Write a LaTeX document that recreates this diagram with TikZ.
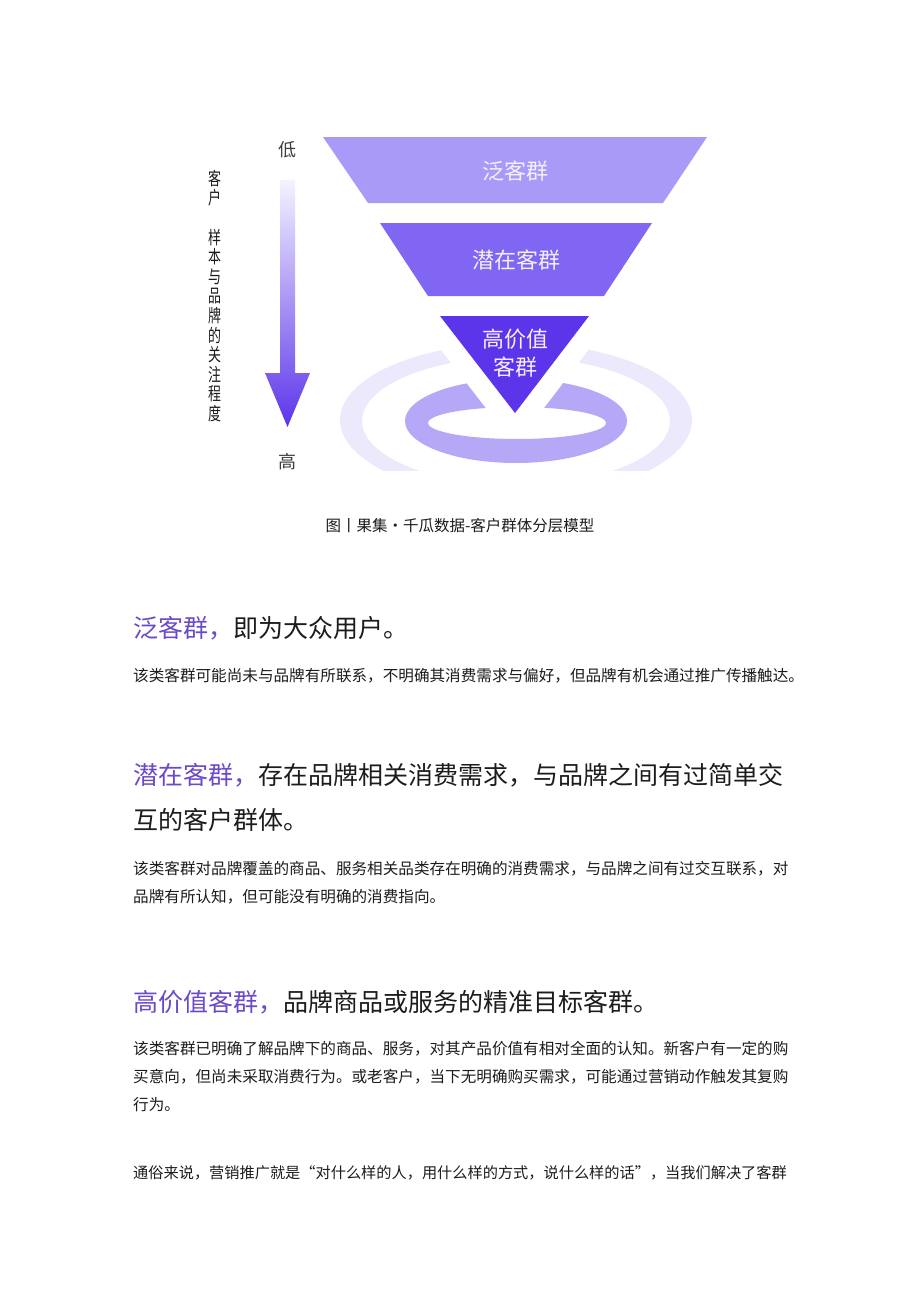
\documentclass[tikz,border=0pt]{standalone}
\usepackage{fontspec}
\newfontfamily\cjk{Noto Sans CJK SC}
\usepackage{xcolor}
\definecolor{layerA}{RGB}{170,154,247}
\definecolor{layerB}{RGB}{128,102,242}
\definecolor{layerC}{RGB}{92,52,234}
\definecolor{ringcol}{RGB}{182,168,246}
\definecolor{halocol}{RGB}{236,233,253}
\definecolor{headcol}{RGB}{106,74,202}
\definecolor{textcol}{RGB}{28,28,28}
\definecolor{labelcol}{RGB}{244,240,255}

\begin{document}
\begin{tikzpicture}[x=1pt,y=-1pt,%
    funnel/.style={text=labelcol,font=\cjk\fontsize{22}{28}\selectfont,align=center,inner sep=0pt},
    axis/.style={text=textcol!85,font=\cjk\fontsize{18}{20}\selectfont,inner sep=0pt},
    heading/.style={anchor=west,inner sep=0pt,text=textcol,font=\cjk\fontsize{25}{30}\selectfont},
    body/.style={anchor=west,inner sep=0pt,text=textcol,font=\cjk\fontsize{15.6}{20}\selectfont}]

  \useasboundingbox[fill=white] (0,0) rectangle (920,1301);

  % halo and ring round the tip
  \begin{scope}
    \clip (300,330) rectangle (720,470);
    \fill[halocol,even odd rule] (516,420) ellipse [x radius=176,y radius=77]
                                 (516,421) ellipse [x radius=154,y radius=64];
    \fill[ringcol,even odd rule] (516,421) ellipse [x radius=111,y radius=42]
                                 (517,423) ellipse [x radius=89,y radius=16];
    \draw[white,line width=40pt,line join=round] (440,316) -- (515,413) -- (589,316);
  \end{scope}

  % funnel layers
  \fill[layerA] (323,137) -- (707,137) -- (663,203) -- (368,203) -- cycle;
  \fill[layerB] (380,223) -- (652,223) -- (604,296) -- (428,296) -- cycle;
  \fill[layerC] (440,316) -- (589,316) -- (515,413) -- cycle;

  \node[funnel] (wide)   at (515,171) {泛客群};
  \node[funnel] (latent) at (516,260) {潜在客群};
  \node[funnel] (value)  at (515,353) {高价值\\客群};

  % arrow low -> high
  \shade[top color=layerA!12,bottom color=layerC]
    (280,180) -- (295,180) -- (295,373) -- (310,373) -- (287.5,427)
    -- (265,373) -- (280,373) -- cycle;
  \node[axis] (low)  at (287,150) {低};
  \node[axis] (high) at (287,462) {高};
  \node[text=textcol,font=\cjk\fontsize{18}{19.6}\selectfont,align=center,inner sep=0pt,
        xscale=0.72,transform shape]
    (degree) at (215,296) {客\\户\\\mbox{}\\样\\本\\与\\品\\牌\\的\\关\\注\\程\\度};

  \node[text=textcol,font=\cjk\fontsize{15.5}{18}\selectfont,inner sep=0pt]
    (caption) at (460,526) {图丨果集·千瓜数据-客户群体分层模型};

  % headings
  \node[heading] (head-1)  at (133,628)  {\textcolor{headcol}{泛客群，}即为大众用户。};
  \node[heading] (head-2)  at (133,775)  {\textcolor{headcol}{潜在客群，}存在品牌相关消费需求，与品牌之间有过简单交};
  \node[heading] (head-2b) at (133,820)  {互的客户群体。};
  \node[heading] (head-3)  at (133,1002) {\textcolor{headcol}{高价值客群，}品牌商品或服务的精准目标客群。};

  % body lines
  \foreach \y/\txt [count=\i] in {%
      676/该类客群可能尚未与品牌有所联系，不明确其消费需求与偏好，但品牌有机会通过推广传播触达。,%
      869/该类客群对品牌覆盖的商品、服务相关品类存在明确的消费需求，与品牌之间有过交互联系，对,%
      897/品牌有所认知，但可能没有明确的消费指向。,%
      1049/该类客群已明确了解品牌下的商品、服务，对其产品价值有相对全面的认知。新客户有一定的购,%
      1077/买意向，但尚未采取消费行为。或老客户，当下无明确购买需求，可能通过营销动作触发其复购,%
      1105/行为。%
    } {\node[body] (line-\i) at (133,\y) {\txt};}
  \node[body,font=\cjk\fontsize{15.2}{20}\selectfont] (line-7) at (133,1173)
    {通俗来说，营销推广就是“对什么样的人，用什么样的方式，说什么样的话”，当我们解决了客群};
\end{tikzpicture}
\end{document}
